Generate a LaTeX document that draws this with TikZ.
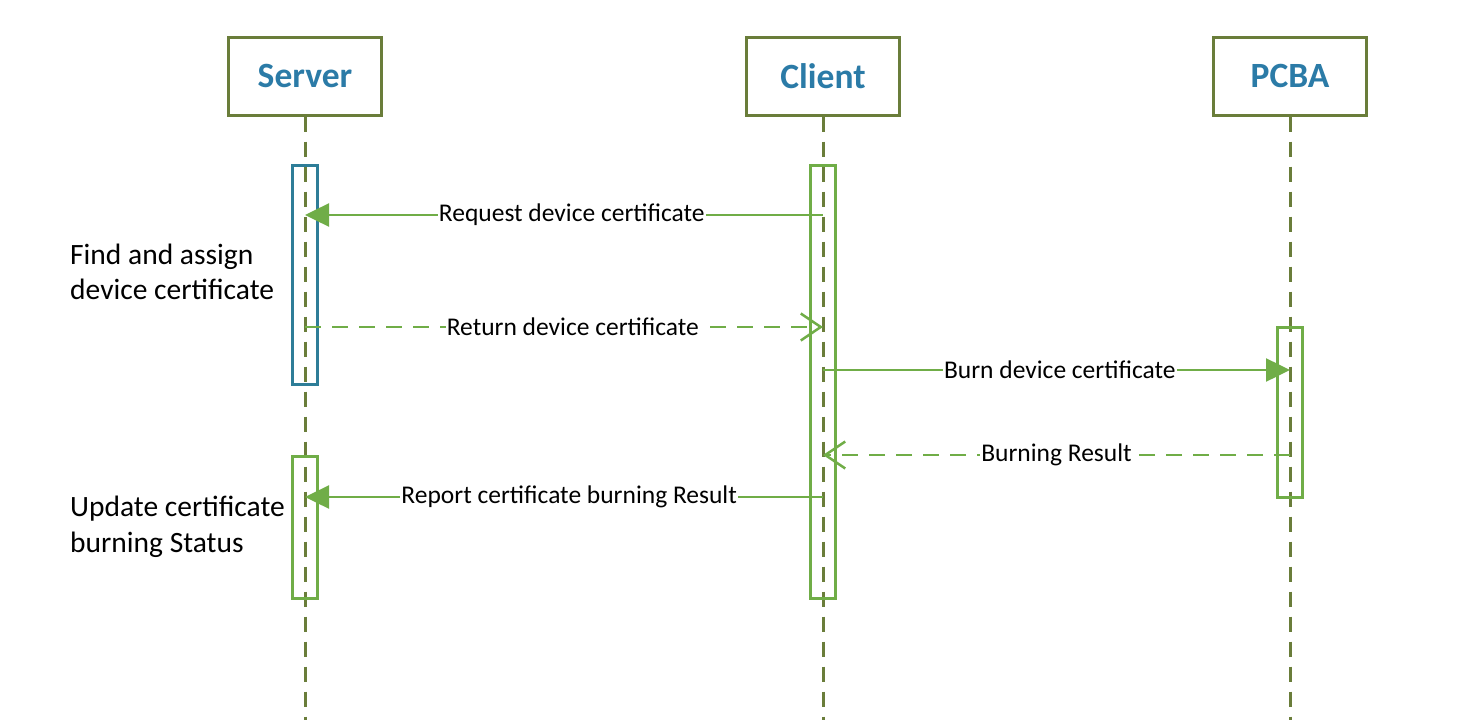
\documentclass[tikz,border=0pt]{standalone}
\usepackage{fontspec}
\setmainfont{Carlito}
\usetikzlibrary{arrows.meta, positioning}

\definecolor{lifeol}{HTML}{6A7D3A}
\definecolor{msggreen}{HTML}{70AD47}
\definecolor{actteal}{HTML}{2E7D98}
\definecolor{titleblue}{HTML}{2B7BA7}

\tikzset{
  actor/.style={draw=lifeol, line width=3pt, fill=white, minimum width=153pt,
    minimum height=78pt, text=titleblue, font=\bfseries\fontsize{35.5}{40}\selectfont},
  lifeline/.style={lifeol, line width=3pt, dash pattern=on 15pt off 10pt},
  bar/.style={draw=msggreen, line width=3pt, minimum width=25pt, inner sep=0pt},
  msg/.style={msggreen, line width=2.5pt, -{Triangle[length=24pt, width=23pt]}},
  reply/.style={msggreen, line width=2.5pt, dash pattern=on 16pt off 11pt,
    -{Straight Barb[length=20pt, width=27pt, line width=2.5pt]}},
  msglabel/.style={fill=white, inner sep=1pt, text=black, font=\fontsize{25.5}{30}\selectfont},
  note/.style={anchor=west, align=left, inner sep=0pt, text=black, font=\fontsize{29.5}{35.5}\selectfont}
}

\begin{document}
\begin{tikzpicture}[x=1pt, y=-1pt]
  \useasboundingbox (0,0) rectangle (1472,720);

  % participants
  \node[actor] (server) at (305,76) {Server};
  \node[actor] (client) at (823,76) {Client};
  \node[actor] (pcba) at (1290,76) {PCBA};

  % lifelines
  \coordinate (server-end) at (server |- 0,720);
  \coordinate (client-end) at (client |- 0,720);
  \coordinate (pcba-end) at (pcba |- 0,720);
  \draw[lifeline] (server.south) -- (server-end);
  \draw[lifeline] (client.south) -- (client-end);
  \draw[lifeline] (pcba.south) -- (pcba-end);

  % activation bars
  \node[bar, draw=actteal, minimum height=219pt] (srv-act1) at (305,274.5) {};
  \node[bar, minimum height=142pt] (srv-act2) at (305,527) {};
  \node[bar, minimum height=433pt] (cli-act) at (823,381.5) {};
  \node[bar, minimum height=170pt] (pcba-act) at (1290,412) {};

  % message ends
  \coordinate (req-c) at (client |- 0,215);
  \coordinate (req-s) at (server |- 0,215);
  \coordinate (ret-s) at (server |- 0,327);
  \coordinate (ret-c) at (client |- 0,327);
  \coordinate (burn-c) at (client |- 0,370);
  \coordinate (burn-p) at (pcba |- 0,370);
  \coordinate (res-p) at (pcba |- 0,455);
  \coordinate (res-c) at (client |- 0,455);
  \coordinate (rep-c) at (client |- 0,497);
  \coordinate (rep-s) at (server |- 0,497);

  % messages
  \draw[msg] (req-c) -- node[msglabel, pos=0.485] {Request device certificate} (req-s);
  \draw[reply] (ret-s) -- node[msglabel, pos=0.517] {Return device certificate} (ret-c);
  \draw[msg] (burn-c) -- node[msglabel, pos=0.507] {Burn device certificate} (burn-p);
  \draw[reply] (res-p) -- node[msglabel] {Burning Result} (res-c);
  \draw[msg] (rep-c) -- node[msglabel, pos=0.49] {Report certificate burning Result} (rep-s);

  % notes
  \node[note] (find-note) at (70,272) {Find and assign\\device certificate};
  \node[note] (update-note) at (70,527) {Update certificate\\burning Status};
\end{tikzpicture}
\end{document}
